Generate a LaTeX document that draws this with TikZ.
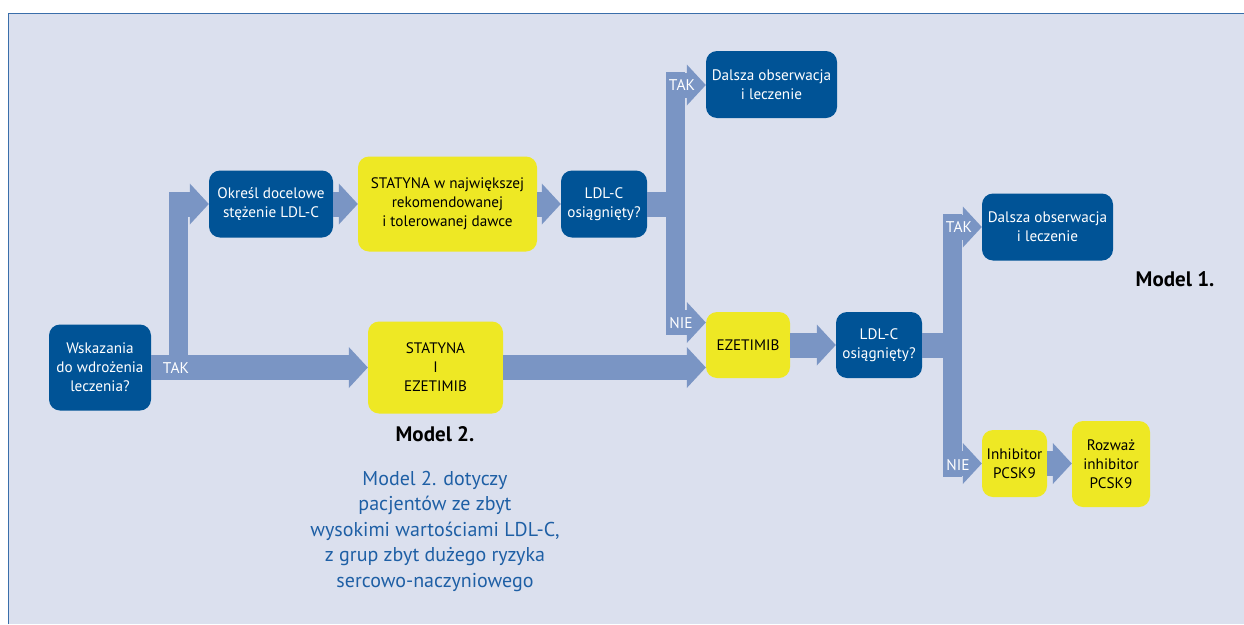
\documentclass[tikz,border=0pt]{standalone}
\usepackage{fontspec}
\setmainfont{PT Sans}
\usetikzlibrary{arrows.meta}
\definecolor{bgc}{RGB}{219,224,238}
\definecolor{framec}{RGB}{58,110,170}
\definecolor{dblue}{RGB}{0,83,150}
\definecolor{yel}{RGB}{238,232,36}
\definecolor{arrc}{RGB}{122,149,196}
\definecolor{desctext}{RGB}{30,95,165}
\tikzset{
  box/.style={rounded corners=11pt, align=center, inner sep=0pt, font=\fontsize{15.2}{19}\selectfont},
  dbox/.style={box, fill=dblue, text=white},
  ybox/.style={box, fill=yel, text=black},
  hbar/.style={draw=arrc, line width=25pt, -{Triangle[length=19pt,width=41pt,line width=0pt]}},
  stub/.style={draw=arrc, line width=25pt},
  vbar/.style={draw=arrc, line width=19pt},
  lbl/.style={text=white, inner sep=0pt, font=\fontsize{15.5}{18}\selectfont},
}
\begin{document}
\begin{tikzpicture}[x=1pt,y=-1pt]
\useasboundingbox (0,0) rectangle (1244,624);
\fill[bgc] (8,13) rectangle (1244,624);
\draw[framec, line width=1.3pt] (8.6,624) -- (8.6,13.6) -- (1244,13.6);

% nodes
\node[dbox, minimum width=102pt, minimum height=86pt] (wsk) at (100,367.5) {Wskazania\\do wdrożenia\\leczenia?};
\node[dbox, minimum width=124pt, minimum height=67pt] (okr) at (271,204) {Określ docelowe\\stężenie LDL-C};
\node[ybox, minimum width=179pt, minimum height=95pt] (stat) at (447.5,204) {STATYNA w największej\\rekomendowanej\\i tolerowanej dawce};
\node[dbox, minimum width=86pt, minimum height=67pt] (ldl1) at (604,204) {LDL-C\\osiągnięty?};
\node[dbox, minimum width=131pt, minimum height=67pt] (dal1) at (771.5,84.5) {Dalsza obserwacja\\i leczenie};
\node[ybox, minimum width=84pt, minimum height=66pt] (eze) at (748,345) {EZETIMIB};
\node[ybox, minimum width=135pt, minimum height=92pt] (se) at (435.5,367.5) {STATYNA\\I\\EZETIMIB};
\node[dbox, minimum width=86pt, minimum height=66pt] (ldl2) at (879,345) {LDL-C\\osiągnięty?};
\node[dbox, minimum width=131pt, minimum height=67pt] (dal2) at (1047.5,227) {Dalsza obserwacja\\i leczenie};
\node[ybox, minimum width=65pt, minimum height=67pt] (inh) at (1014.5,463.5) {Inhibitor\\PCSK9};
\node[ybox, minimum width=78pt, minimum height=86pt] (roz) at (1111,464) {Rozważ\\inhibitor\\PCSK9};

% connectors
\coordinate (j0) at (178.5,367.5);
\coordinate (j0t) at (178.5,191.5);
\coordinate (t0) at (169,204);
\draw[hbar] (wsk.east) -- (se.west);
\draw[vbar] (j0) -- (j0t);
\draw[hbar] (t0) -- (okr.west |- t0);
\draw[hbar] (okr.east) -- (stat.west |- okr.east);
\draw[hbar] (stat.east |- ldl1.west) -- (ldl1.west);

\coordinate (b1t) at (675.5,72);
\coordinate (b1b) at (675.5,335);
\coordinate (t1) at (666,85);
\coordinate (n1) at (666,322.5);
\draw[stub] (ldl1.east) -- (ldl1.east -| b1t);
\draw[vbar] (b1t) -- (b1b);
\draw[hbar] (t1) -- (dal1.west |- t1);
\draw[hbar] (n1) -- (eze.west |- n1);
\draw[hbar] (se.east) -- (eze.west |- se.east);
\draw[hbar] (eze.east) -- (ldl2.west);

\coordinate (b2t) at (952,214);
\coordinate (b2b) at (952,476.5);
\coordinate (t2) at (943,227);
\coordinate (n2) at (943,463.5);
\draw[stub] (ldl2.east) -- (ldl2.east -| b2t);
\draw[vbar] (b2t) -- (b2b);
\draw[hbar] (t2) -- (dal2.west |- t2);
\draw[hbar] (n2) -- (inh.west);
\draw[hbar] (inh.east) -- (roz.west |- inh.east);

% labels
\node[lbl] (tak0) at (176,368) {TAK};
\node[lbl] (tak1) at (682,85) {TAK};
\node[lbl] (nie1) at (681,323) {NIE};
\node[lbl] (tak2) at (959,227) {TAK};
\node[lbl] (nie2) at (958,465) {NIE};

\node[inner sep=0pt, font=\bfseries\fontsize{21}{24}\selectfont] (m1) at (1175,279) {Model 1.};
\node[inner sep=0pt, font=\bfseries\fontsize{21}{24}\selectfont] (m2) at (435,434) {Model 2.};
\node[inner sep=0pt, text=desctext, align=center, font=\fontsize{20}{25.5}\selectfont] (desc) at (435,531) {Model 2. dotyczy\\pacjentów ze zbyt\\wysokimi wartościami LDL-C,\\z grup zbyt dużego ryzyka\\sercowo-naczyniowego};
\end{tikzpicture}
\end{document}
